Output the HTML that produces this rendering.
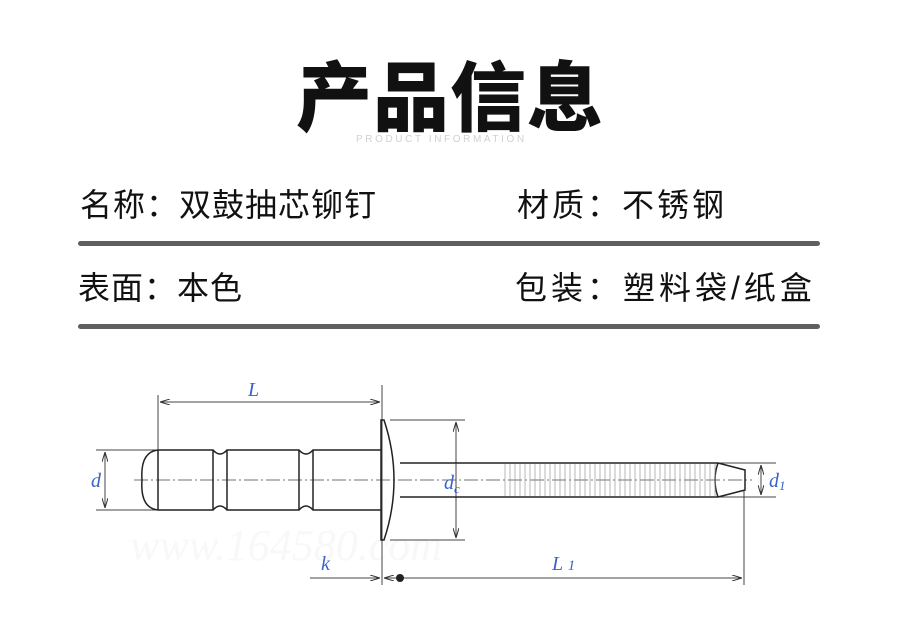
<!DOCTYPE html>
<html><head><meta charset="utf-8"><style>
html,body{margin:0;padding:0;background:#fff;}
body{width:900px;height:636px;position:relative;overflow:hidden;font-family:"Liberation Sans","Noto Sans CJK SC",sans-serif;}
.t{position:absolute;color:#111;}
.r{font-size:32px;line-height:40px;letter-spacing:1px;}
.bar{position:absolute;left:78px;width:742px;height:5px;background:#5f5f62;border-radius:3px;}
</style></head><body>
<div class="t" style="left:296px;top:57px;font-size:76px;font-weight:900;letter-spacing:1px;line-height:86px;">产品信息</div>
<div class="t" style="left:356px;top:134px;font-size:10px;color:#d0d0d6;letter-spacing:2.6px;">PRODUCT INFORMATION</div>
<div class="t r" style="left:80px;top:185px;">名称：双鼓抽芯铆钉</div>
<div class="t r" style="left:517px;top:185px;letter-spacing:3px;">材质：不锈钢</div>
<div class="bar" style="top:241px"></div>
<div class="t r" style="left:78px;top:268px;">表面：本色</div>
<div class="t r" style="left:515px;top:268px;letter-spacing:4px;">包装：塑料袋/纸盒</div>
<div class="bar" style="top:324px"></div>
<svg style="position:absolute;left:0;top:0" width="900" height="636" viewBox="0 0 900 636">
<defs><marker id="a" markerWidth="10" markerHeight="6" refX="10" refY="3" orient="auto-start-reverse" markerUnits="userSpaceOnUse"><path d="M0,0 L10,3 L0,6" fill="none" stroke="#333" stroke-width="1"/></marker></defs>
<text x="130" y="560" font-family="Liberation Serif,serif" font-style="italic" font-size="44" fill="#f8f8f8">www.164580.com</text>
<g stroke="#444" stroke-width="1" fill="none">
<line x1="158" y1="395" x2="158" y2="450"/><line x1="382" y1="385" x2="382" y2="585"/>
<line x1="160" y1="402" x2="380" y2="402" marker-start="url(#a)" marker-end="url(#a)"/>
<line x1="96" y1="450" x2="158" y2="450"/><line x1="96" y1="510" x2="158" y2="510"/>
<line x1="105" y1="452" x2="105" y2="508" marker-start="url(#a)" marker-end="url(#a)"/>
<line x1="390" y1="420" x2="465" y2="420"/><line x1="390" y1="540" x2="465" y2="540"/>
<line x1="456" y1="422" x2="456" y2="538" marker-start="url(#a)" marker-end="url(#a)"/>
<line x1="718" y1="463" x2="776" y2="463"/><line x1="718" y1="497" x2="776" y2="497"/>
<line x1="761" y1="465" x2="761" y2="495" marker-start="url(#a)" marker-end="url(#a)"/>
<line x1="744" y1="490" x2="744" y2="585"/>
<line x1="310" y1="578" x2="380" y2="578" marker-end="url(#a)"/>
<line x1="384" y1="578" x2="742" y2="578" marker-start="url(#a)" marker-end="url(#a)"/>
<line x1="134" y1="480" x2="752" y2="480" stroke-dasharray="14,3,2,3" stroke-width="0.8"/>
</g>
<circle cx="400" cy="578" r="4" fill="#222"/>
<g stroke="#222" stroke-width="1.5" fill="none">
<path d="M158,450 Q140,452 142,480 Q140,508 158,510"/>
<path d="M158,450 L213,450 Q220,458 227,450 L299,450 Q306,458 313,450 L381,450"/>
<path d="M158,510 L213,510 Q220,502 227,510 L299,510 Q306,502 313,510 L381,510"/>
<line x1="158" y1="450" x2="158" y2="510"/>
<line x1="213" y1="450" x2="213" y2="510"/><line x1="227" y1="450" x2="227" y2="510"/>
<line x1="299" y1="450" x2="299" y2="510"/><line x1="313" y1="450" x2="313" y2="510"/>
<path d="M381,420 L381,540 L384,540 Q404,480 384,420 Z"/>
<path d="M400,463 L718,463 L745,470 L745,490 L718,497 L400,497"/>
<path d="M718,463 Q712,480 718,497"/>
</g>
<g stroke="#999" stroke-width="0.7">
<path d="M505,464V496M510,464V496M515,464V496M520,464V496M525,464V496M530,464V496M535,464V496M540,464V496M545,464V496M550,464V496M555,464V496M560,464V496M565,464V496M570,464V496M575,464V496M580,464V496M585,464V496M590,464V496M595,464V496M600,464V496M605,464V496M610,464V496M615,464V496M620,464V496M625,464V496M630,464V496M635,464V496M640,464V496M645,464V496M650,464V496M655,464V496M660,464V496M665,464V496M670,464V496M675,464V496M680,464V496M685,464V496M690,464V496M695,464V496M700,464V496M705,464V496M710,464V496M715,464V496"/>
</g>
<g font-family="Liberation Serif,serif" font-style="italic" font-size="20" fill="#3a62c8">
<text x="248" y="396">L</text>
<text x="91" y="487">d</text>
<text x="444" y="489">d<tspan font-size="13" dy="4">c</tspan></text>
<text x="321" y="570">k</text>
<text x="552" y="570">L <tspan font-size="15">1</tspan></text>
<text x="769" y="487">d<tspan font-size="13" dy="3">1</tspan></text>
</g>
</svg>
</body></html>
